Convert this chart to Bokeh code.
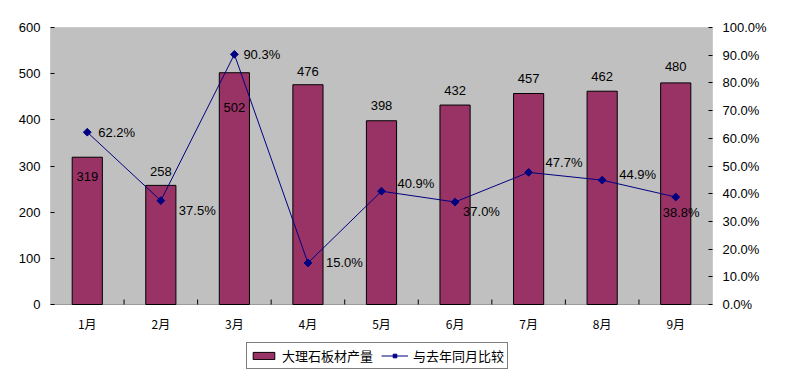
import math
from bokeh.plotting import figure
from bokeh.models import (ColumnDataSource, Range1d, LinearAxis, FixedTicker,
                          PrintfTickFormatter, Legend, LegendItem, BoxAnnotation)
from bokeh.core.properties import value
from bokeh.embed import file_html
from bokeh.resources import INLINE

# ---- data ----
months = ["1月", "2月", "3月", "4月", "5月", "6月", "7月", "8月", "9月"]
output = [319, 258, 502, 476, 398, 432, 457, 462, 480]          # 大理石板材产量
yoy_pct = [62.2, 37.5, 90.3, 15.0, 40.9, 37.0, 47.7, 44.9, 38.8]  # 与去年同月比较 (%)
left_ticks = [0, 100, 200, 300, 400, 500, 600]
right_ticks = [0, 10, 20, 30, 40, 50, 60, 70, 80, 90, 100]
y_max, pct_max = 600, 100

# ---- layout (pixels) ----
bar_label_dy = [19, -14, 35, -13, -15, -15, -15, -15, -16]
line_label_dx = [11, 18, 9, 18, 16, 8, 17, 17, -13]
line_label_dy = [0, 10, 0, 0, -8, 9, -10, -6, 15]
PLOT_H = 277          # height of the grey plot area
FRAME_H = 348         # frame extends below the plot area to hold labels + legend
EXTRA = FRAME_H - PLOT_H
TICK_LEN = 5

y_per_px = y_max / PLOT_H
xs = list(range(1, len(months) + 1))
src = ColumnDataSource(dict(
    x=xs, out=output, pct=yoy_pct, zero=[0] * len(xs), month=months,
    out_txt=[str(v) for v in output],
    pct_txt=[f"{v:.1f}%" for v in yoy_pct],
    bdy=bar_label_dy, ldx=line_label_dx, ldy=line_label_dy,
))
bounds = [i + 0.5 for i in xs[:-1]]
tick_src = ColumnDataSource(dict(x=bounds, y0=[0] * len(bounds),
                                 y1=[TICK_LEN * y_per_px] * len(bounds)))

NUM_FONT = "Liberation Sans"
CJK_FONT = "Noto Sans CJK SC"

p = figure(output_backend="svg", toolbar_location=None,
           frame_width=662, frame_height=FRAME_H,
           min_border_left=50, min_border_right=70,
           min_border_top=27, min_border_bottom=0,
           x_range=Range1d(0.5, len(months) + 0.5),
           y_range=Range1d(-EXTRA * y_per_px, y_max))
p.background_fill_color = "white"
p.border_fill_color = "white"
p.outline_line_color = None
p.xgrid.visible = False
p.ygrid.visible = False
p.xaxis.visible = False
p.extra_y_ranges = {"pct": Range1d(-EXTRA * pct_max / PLOT_H, pct_max)}

# grey plot area with black border
p.add_layout(BoxAnnotation(bottom=0, top=y_max, fill_color="#C0C0C0", fill_alpha=1,
                           line_color="black", line_width=1, level="underlay"))

ya = p.yaxis[0]
ya.ticker = FixedTicker(ticks=left_ticks)
ya.major_tick_in = 4
ya.major_tick_out = 0
ya.minor_tick_line_color = None
ya.major_label_standoff = 10
ya.major_label_text_font = NUM_FONT
ya.major_label_text_font_size = "13px"
ya.major_label_text_color = "black"
ya.axis_line_color = None

ra = LinearAxis(y_range_name="pct", ticker=FixedTicker(ticks=right_ticks),
                formatter=PrintfTickFormatter(format="%.1f%%"))
ra.major_tick_in = 4
ra.major_tick_out = 0
ra.minor_tick_line_color = None
ra.major_label_standoff = 10
ra.major_label_text_font = NUM_FONT
ra.major_label_text_font_size = "13px"
ra.major_label_text_color = "black"
ra.axis_line_color = None
p.add_layout(ra, "right")

# category separators (x-axis ticks, pointing inward)
p.segment(x0="x", y0="y0", x1="x", y1="y1", source=tick_src,
          line_color="black", line_width=1)

# month labels
p.text(x="x", y="zero", text="month", source=src, y_offset=19,
       text_align="center", text_baseline="middle",
       text_font=value(CJK_FONT), text_font_size="12px", text_color="black")

# bars
bars = p.vbar(x="x", top="out", width=0.41, source=src,
              fill_color="#993366", line_color="black", line_width=1)

# bar labels
p.text(x="x", y="out", text="out_txt", source=src, y_offset="bdy",
       text_align="center", text_baseline="middle",
       text_font=value(NUM_FONT), text_font_size="13px", text_color="black")

# line
ln = p.line(x="x", y="pct", source=src, y_range_name="pct",
            line_color="#000080", line_width=1)
mk = p.scatter(x="x", y="pct", source=src, y_range_name="pct", marker="square",
               angle=math.pi / 4, size=5.5, fill_color="#000080", line_color="#000080")

p.text(x="x", y="pct", text="pct_txt", source=src, y_range_name="pct",
       x_offset="ldx", y_offset="ldy",
       text_align="left", text_baseline="middle",
       text_font=value(NUM_FONT), text_font_size="13px", text_color="black")

legend = Legend(items=[
    LegendItem(label="大理石板材产量", renderers=[bars]),
    LegendItem(label="与去年同月比较", renderers=[ln, mk]),
], orientation="horizontal", location=(196, 6))
legend.label_text_font = CJK_FONT
legend.label_text_font_size = "13px"
legend.label_text_color = "black"
legend.glyph_width = 27
legend.glyph_height = 9
legend.label_height = 14
legend.label_standoff = 5
legend.spacing = 8
legend.padding = 3
legend.margin = 0
legend.border_line_color = "black"
legend.border_line_width = 1
legend.background_fill_color = "white"
legend.background_fill_alpha = 1
p.add_layout(legend, "center")

open("out.html", "w").write(file_html(p, INLINE))
